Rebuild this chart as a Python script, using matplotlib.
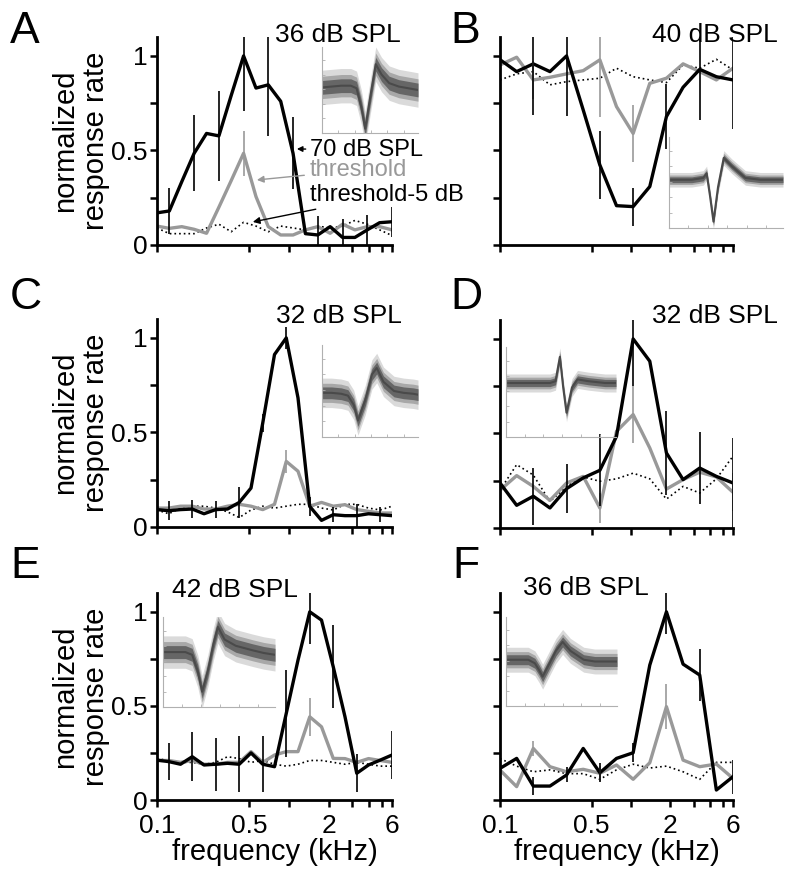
import matplotlib
matplotlib.use("Agg")
import matplotlib.pyplot as plt
import numpy as np

plt.rcParams['font.family'] = ['Liberation Sans', 'DejaVu Sans']

# frequencies (kHz) of the tested tones
freq_a = [0.1, 0.124, 0.154, 0.191, 0.237, 0.294, 0.364, 0.452, 0.561, 0.695,
          0.863, 1.07, 1.327, 1.647, 2.042, 2.534, 3.143, 3.899, 4.836, 6.0]
freq_ce = [0.1, 0.1227, 0.1506, 0.1848, 0.2268, 0.2783, 0.3415, 0.4191, 0.5144, 0.6312,
           0.7746, 0.9506, 1.1665, 1.4315, 1.7567, 2.1558, 2.6456, 3.2466, 3.9842, 4.8893, 6.0]
freq_bdf = [0.1, 0.134, 0.1795, 0.2405, 0.3221, 0.4316, 0.5782, 0.7746, 1.0377,
            1.3903, 1.8626, 2.4953, 3.3431, 4.4788, 6.0]

# panel A
a_70 = [0.17, 0.18, 0.335, 0.485, 0.59, 0.577, 0.79, 1.0, 0.83, 0.847, 0.76, 0.485,
        0.06, 0.053, 0.097, 0.04, 0.04, 0.08, 0.118, 0.123]
a_70_err = [0, 0.12, 0, 0.2, 0, 0.24, 0, 0.29, 0, 0.27, 0, 0.19, 0, 0.1, 0, 0.1, 0, 0.08, 0, 0.08]
a_thr = [0.1, 0.088, 0.097, 0.083, 0.062, 0.2, 0.34, 0.485, 0.256, 0.097, 0.053, 0.053,
         0.08, 0.097, 0.062, 0.11, 0.08, 0.097, 0.097, 0.08]
a_thr_err = [0, 0, 0, 0, 0, 0, 0, 0.12, 0, 0, 0, 0, 0, 0, 0, 0, 0, 0, 0, 0]
a_low = [0.09, 0.06, 0.06, 0.06, 0.09, 0.11, 0.07, 0.12, 0.1, 0.07, 0.1, 0.09, 0.08,
         0.1, 0.09, 0.1, 0.13, 0.11, 0.08, 0.05]

# panel B
b_70 = [0.98, 0.917, 0.958, 0.917, 1.0, 0.714, 0.423, 0.208, 0.203, 0.309, 0.679,
        0.834, 0.929, 0.89, 0.873]
b_70_err = [0, 0, 0.27, 0, 0.32, 0, 0.18, 0, 0.1, 0, 0.17, 0, 0.27, 0, 0.26]
b_thr = [0.952, 0.993, 0.873, 0.887, 0.905, 0.922, 0.979, 0.732, 0.59, 0.855, 0.882,
         0.958, 0.917, 0.873, 0.935]
b_thr_err = [0, 0, 0.1, 0, 0, 0, 0.3, 0, 0.15, 0, 0, 0, 0, 0, 0]
b_low = [0.873, 0.905, 0.917, 0.847, 0.864, 0.873, 0.882, 0.935, 0.89, 0.873, 0.859,
         0.952, 0.935, 0.982, 0.926]

# panel C
c_70 = [0.092, 0.086, 0.092, 0.095, 0.07, 0.092, 0.095, 0.13, 0.206, 0.55, 0.912, 1.0,
        0.683, 0.109, 0.035, 0.065, 0.06, 0.06, 0.07, 0.065, 0.06]
c_70_err = [0, 0.05, 0, 0.05, 0, 0.045, 0, 0.08, 0, 0.05, 0, 0.06, 0, 0.05, 0, 0.04,
            0, 0.06, 0, 0.04, 0]
c_thr = [0.1, 0.1, 0.11, 0.11, 0.095, 0.095, 0.11, 0.12, 0.11, 0.092, 0.12, 0.347,
         0.295, 0.11, 0.13, 0.11, 0.118, 0.092, 0.083, 0.074, 0.074]
c_thr_err = [0, 0, 0, 0, 0, 0, 0, 0, 0, 0, 0, 0.06, 0, 0, 0, 0, 0, 0, 0, 0, 0]
c_low = [0.09, 0.07, 0.1, 0.11, 0.11, 0.1, 0.08, 0.05, 0.09, 0.11, 0.1, 0.11, 0.12,
         0.12, 0.1, 0.09, 0.12, 0.12, 0.1, 0.09, 0.11]

# panel D
d_70 = [0.238, 0.12, 0.168, 0.106, 0.208, 0.265, 0.305, 0.485, 1.0, 0.882, 0.397,
        0.256, 0.317, 0.273, 0.238]
d_70_err = [0, 0, 0.15, 0, 0.13, 0, 0.19, 0, 0.25, 0, 0.22, 0, 0.19, 0, 0.24]
d_thr = [0.2, 0.277, 0.22, 0.146, 0.238, 0.273, 0.106, 0.511, 0.6, 0.423, 0.206,
         0.256, 0.295, 0.27, 0.189]
d_thr_err = [0, 0, 0, 0, 0, 0, 0.08, 0, 0.15, 0, 0, 0, 0, 0, 0.1]
d_low = [0.2, 0.335, 0.28, 0.14, 0.22, 0.27, 0.247, 0.26, 0.29, 0.26, 0.153, 0.22,
         0.185, 0.26, 0.38]

# panel E
e_70 = [0.212, 0.204, 0.19, 0.23, 0.186, 0.19, 0.195, 0.19, 0.25, 0.19, 0.177, 0.46,
        0.743, 1.0, 0.956, 0.708, 0.442, 0.142, 0.186, 0.212, 0.239]
e_70_err = [0, 0.1, 0, 0.13, 0, 0.14, 0, 0.15, 0, 0.15, 0, 0.23, 0, 0.17, 0, 0.22,
            0, 0.1, 0, 0, 0.13]
e_thr = [0.21, 0.21, 0.2, 0.21, 0.19, 0.19, 0.2, 0.2, 0.257, 0.2, 0.239, 0.257, 0.257,
         0.442, 0.389, 0.221, 0.22, 0.2, 0.22, 0.21, 0.2]
e_thr_err = [0, 0, 0, 0, 0, 0, 0, 0, 0, 0, 0, 0, 0, 0.1, 0, 0, 0, 0, 0, 0, 0]
e_low = [0.22, 0.21, 0.2, 0.2, 0.19, 0.2, 0.23, 0.22, 0.2, 0.21, 0.19, 0.18, 0.19,
         0.21, 0.21, 0.2, 0.19, 0.2, 0.19, 0.18, 0.18]

# panel F
f_70 = [0.168, 0.221, 0.074, 0.074, 0.133, 0.274, 0.145, 0.221, 0.251, 0.717, 1.0,
        0.722, 0.664, 0.053, 0.124]
f_70_err = [0, 0, 0.05, 0, 0.04, 0, 0.05, 0, 0.05, 0, 0.12, 0, 0.14, 0, 0.09]
f_thr = [0.159, 0.071, 0.274, 0.177, 0.15, 0.163, 0.142, 0.186, 0.11, 0.198, 0.496,
         0.212, 0.177, 0.191, 0.115]
f_thr_err = [0, 0, 0.04, 0, 0, 0, 0.04, 0, 0, 0, 0.12, 0, 0, 0, 0]
f_low = [0.22, 0.18, 0.15, 0.16, 0.14, 0.14, 0.11, 0.16, 0.19, 0.17, 0.18, 0.15, 0.11,
         0.2, 0.2]

# spike waveforms in the insets (time, amplitude, both 0..1 of the inset box)
wave_t = {
    'A': [0, 0.1, 0.2, 0.3, 0.36, 0.41, 0.45, 0.5, 0.56, 0.62, 0.7, 0.8, 0.9, 1.0],
    'B': [0, 0.1, 0.2, 0.3, 0.33, 0.36, 0.39, 0.43, 0.48, 0.55, 0.67, 0.8, 0.9, 1.0],
    'C': [0, 0.1, 0.2, 0.27, 0.33, 0.375, 0.45, 0.52, 0.57, 0.64, 0.75, 0.85, 0.95, 1.0],
    'D': [0, 0.1, 0.2, 0.3, 0.4, 0.45, 0.49, 0.52, 0.55, 0.6, 0.65, 0.75, 0.9, 1.0],
    'E': [0, 0.1, 0.2, 0.26, 0.31, 0.35, 0.4, 0.45, 0.49, 0.55, 0.65, 0.8, 0.9, 1.0],
    'F': [0, 0.1, 0.2, 0.26, 0.3, 0.33, 0.38, 0.45, 0.51, 0.58, 0.7, 0.8, 0.9, 1.0],
}
wave_v = {
    'A': [0.53, 0.54, 0.55, 0.55, 0.52, 0.3, 0.05, 0.4, 0.8, 0.68, 0.58, 0.54, 0.52, 0.5],
    'B': [0.53, 0.53, 0.53, 0.55, 0.6, 0.35, 0.07, 0.45, 0.77, 0.68, 0.55, 0.53, 0.53, 0.53],
    'C': [0.48, 0.48, 0.47, 0.45, 0.35, 0.18, 0.4, 0.68, 0.75, 0.6, 0.5, 0.48, 0.47, 0.46],
    'D': [0.6, 0.6, 0.6, 0.6, 0.6, 0.62, 0.89, 0.55, 0.27, 0.55, 0.64, 0.62, 0.6, 0.6],
    'E': [0.61, 0.61, 0.61, 0.58, 0.4, 0.17, 0.4, 0.7, 0.89, 0.75, 0.68, 0.63, 0.6, 0.58],
    'F': [0.52, 0.52, 0.52, 0.48, 0.4, 0.33, 0.45, 0.62, 0.72, 0.62, 0.52, 0.5, 0.5, 0.5],
}
wave_w = {'A': 0.1, 'B': 0.04, 'C': 0.08, 'D': 0.05, 'E': 0.09, 'F': 0.07}

panels = [
    # letter, (left, right, y0, ytop) px, freqs, 70 dB, err, thr, err, thr-5, title, title px, inset box px
    ('A', (157, 392, 245, 37), freq_a, a_70, a_70_err, a_thr, a_thr_err, a_low,
     '36 dB SPL', (275, 42), (322, 418, 133, 47)),
    ('B', (500, 733, 245, 37), freq_bdf, b_70, b_70_err, b_thr, b_thr_err, b_low,
     '40 dB SPL', (652, 42), (669, 783, 228, 137)),
    ('C', (157, 392, 527, 319), freq_ce, c_70, c_70_err, c_thr, c_thr_err, c_low,
     '32 dB SPL', (276, 323), (322, 418, 437, 345)),
    ('D', (500, 733, 528, 320), freq_bdf, d_70, d_70_err, d_thr, d_thr_err, d_low,
     '32 dB SPL', (652, 323), (506, 616, 437, 347)),
    ('E', (157, 392, 800, 593), freq_ce, e_70, e_70_err, e_thr, e_thr_err, e_low,
     '42 dB SPL', (172, 597), (163, 275, 707, 617)),
    ('F', (500, 733, 800, 593), freq_bdf, f_70, f_70_err, f_thr, f_thr_err, f_low,
     '36 dB SPL', (523, 595), (506, 617, 706, 617)),
]
letter_pos = {'A': (10, 43), 'B': (450, 43), 'C': (10, 309), 'D': (450, 309),
              'E': (10, 578), 'F': (452, 578)}

W, H = 800, 881
fig = plt.figure(figsize=(W / 100, H / 100), dpi=100)
GRAY = '#999999'


def px_axes(l, r, b, t):
    return fig.add_axes([l / W, 1 - b / H, (r - l) / W, (b - t) / H])


for (let, box, fr, s70, e70, sth, eth, slo, title, tpos, ibox) in panels:
    ax = px_axes(*box)
    ax.set_xscale('log')
    ax.plot(fr, slo, color='black', lw=1.2, ls=(0, (1, 1.8)))
    ax.plot(fr, sth, color=GRAY, lw=2.4)
    ax.plot(fr, s70, color='black', lw=2.4)
    for f, v, e in zip(fr, sth, eth):
        if e > 0:
            ax.vlines(f, v - e, v + e, color=GRAY, lw=1.2)
    for f, v, e in zip(fr, s70, e70):
        if e > 0:
            ax.vlines(f, v - e, v + e, color='black', lw=1.2)
    ax.set_xlim(0.1, 6)
    ax.set_ylim(0, 1.1)
    for s in ['top', 'right']:
        ax.spines[s].set_visible(False)
    for s in ['left', 'bottom']:
        ax.spines[s].set_linewidth(2.0)
    ax.tick_params(which='major', direction='out', length=5, width=1.8, labelsize=19, pad=2)
    ax.tick_params(axis='x', pad=5)
    ax.xaxis.set_minor_locator(matplotlib.ticker.NullLocator())
    ax.set_xticks([0.1, 0.5, 1, 2, 3, 4, 5, 6])
    ax.set_yticks([0, 0.25, 0.5, 0.75, 1])
    if let in ('E', 'F'):
        ax.set_xticklabels(['0.1', '0.5', '', '2', '', '', '', '6'])
        ax.set_xlabel('frequency (kHz)', fontsize=21, labelpad=0)
    else:
        ax.set_xticklabels([])
    if let in ('A', 'C', 'E'):
        ax.set_yticklabels(['0', '', '0.5', '', '1'])
        ax.text(-0.325, 0.5, 'normalized\nresponse rate', transform=ax.transAxes,
                rotation=90, ha='center', va='center', fontsize=21, linespacing=1.15)
    else:
        ax.set_yticklabels([])

    fig.text(tpos[0] / W, 1 - tpos[1] / H, title, fontsize=19, ha='left', va='baseline')
    lp = letter_pos[let]
    fig.text(lp[0] / W, 1 - lp[1] / H, let, fontsize=32, ha='left', va='baseline')

    if let == 'A':
        ax.annotate('70 dB SPL', xy=(1.144, 0.508), xytext=(1.434, 0.503),
                    fontsize=17, va='center', ha='left',
                    arrowprops=dict(arrowstyle='-|>', color='black', lw=1, shrinkA=1, shrinkB=0,
                                    mutation_scale=8))
        ax.annotate('threshold', xy=(0.57, 0.344), xytext=(1.434, 0.397),
                    fontsize=17, va='center', ha='left', color=GRAY,
                    arrowprops=dict(arrowstyle='-|>', color=GRAY, lw=1, shrinkA=2, shrinkB=0,
                                    mutation_scale=10))
        ax.annotate('threshold-5 dB', xy=(0.531, 0.122), xytext=(1.434, 0.265),
                    fontsize=17, va='center', ha='left', annotation_clip=False,
                    arrowprops=dict(arrowstyle='-|>', color='black', lw=1, shrinkA=2, shrinkB=0,
                                    mutation_scale=10))

    # spike waveform inset
    ia = px_axes(*ibox)
    t = np.array(wave_t[let])
    v = np.array(wave_v[let])
    w = wave_w[let]
    ia.fill_between(t, v - 2.0 * w, v + 2.0 * w, color='#dadada', lw=0)
    ia.fill_between(t, v - 1.3 * w, v + 1.3 * w, color='#a8a8a8', lw=0)
    ia.fill_between(t, v - 0.8 * w, v + 0.8 * w, color='#666666', lw=0)
    ia.plot(t, v, color='#4a4a4a', lw=1.5)
    ia.set_xlim(0, 1)
    ia.set_ylim(0, 1)
    ia.patch.set_alpha(0)
    for s in ['top', 'right']:
        ia.spines[s].set_visible(False)
    for s in ['left', 'bottom']:
        ia.spines[s].set_color('#b0b0b0')
        ia.spines[s].set_linewidth(0.8)
    ia.set_xticks([0, 0.17, 0.34, 0.51, 0.68, 0.85])
    ia.set_yticks([0, 0.17, 0.34, 0.51, 0.68, 0.85])
    ia.tick_params(direction='in', length=2, width=0.6, color='#b0b0b0',
                   labelbottom=False, labelleft=False)

fig.savefig('out.png', dpi=100)
